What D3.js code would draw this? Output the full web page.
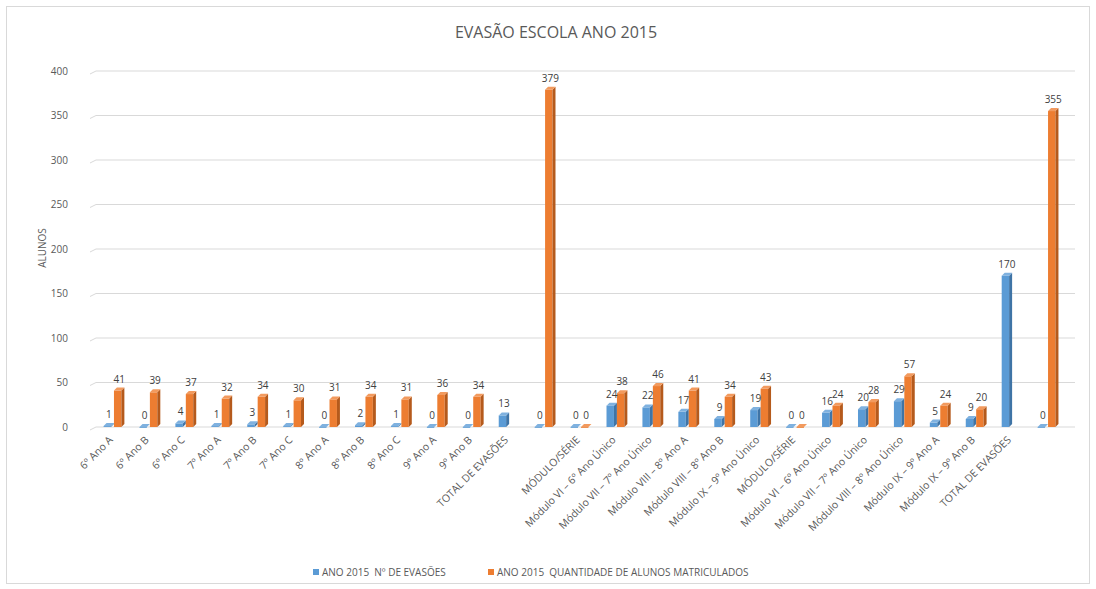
<!DOCTYPE html>
<html>
<head>
<meta charset="utf-8">
<script src="https://cdn.jsdelivr.net/npm/d3@7"></script>
<style>
  html, body { margin: 0; padding: 0; background: #fff; }
  svg { display: block; font-family: "Open Sans", "Liberation Sans", sans-serif; }
</style>
</head>
<body>
<svg id="chart" width="1096" height="589"></svg>
<script>
// Turmas / módulos (eixo X)
const categories = [
  "6º Ano A", "6º Ano B", "6º Ano C", "7º Ano A", "7º Ano B", "7º Ano C",
  "8º Ano A", "8º Ano B", "8º Ano C", "9º Ano A", "9º Ano B",
  "TOTAL DE EVASÕES", "",
  "MÓDULO/SÉRIE", "Módulo VI – 6º Ano Único", "Módulo VII – 7º Ano Único",
  "Módulo VIII – 8º Ano A", "Módulo VIII – 8º Ano B", "Módulo IX – 9º Ano Único",
  "MÓDULO/SÉRIE", "Módulo VI – 6º Ano Único", "Módulo VII – 7º Ano Único",
  "Módulo VIII – 8º Ano Único", "Módulo IX – 9º Ano A", "Módulo IX – 9º Ano B",
  "TOTAL DE EVASÕES", ""
];

// ANO 2015 Nº DE EVASÕES
const evasoes = [1, 0, 4, 1, 3, 1, 0, 2, 1, 0, 0, 13, 0,
                 0, 24, 22, 17, 9, 19, 0, 16, 20, 29, 5, 9, 170, 0];

// ANO 2015 QUANTIDADE DE ALUNOS MATRICULADOS
const matriculados = [41, 39, 37, 32, 34, 30, 31, 34, 31, 36, 34, null, 379,
                      0, 38, 46, 41, 34, 43, 0, 24, 28, 57, 24, 20, null, 355];

const yTicks = [0, 50, 100, 150, 200, 250, 300, 350, 400];

const seriesNames = ["ANO 2015  Nº DE EVASÕES", "ANO 2015  QUANTIDADE DE ALUNOS MATRICULADOS"];
const seriesData = [evasoes, matriculados];
const fronts = ["#5b9bd5", "#ed7d31"];
const sides  = ["#3f74a6", "#b55a1c"];
const tops   = ["#7fb1df", "#f29a5e"];

const svg = d3.select("#chart");

// moldura do gráfico
svg.append("rect")
  .attr("x", 6.5).attr("y", 6.5).attr("width", 1083).attr("height", 577)
  .attr("fill", "#fff").attr("stroke", "#d9d9d9");

const x = d3.scaleBand()
  .domain(d3.range(categories.length))
  .range([96, 1066])
  .paddingInner(0.42)
  .paddingOuter(0.21);

const xs = d3.scaleBand().domain([0, 1]).range([0, x.bandwidth()]);

const y = d3.scaleLinear().domain([0, 400]).range([427, 71]);

const depth = 3;

// título
svg.append("text")
  .attr("x", 556).attr("y", 38)
  .attr("text-anchor", "middle")
  .attr("font-size", 16)
  .attr("fill", "#595959")
  .text("EVASÃO ESCOLA ANO 2015");

// linhas de grade
const grid = svg.append("g");
yTicks.forEach(t => {
  const gy = y(t);
  grid.append("path")
    .attr("d", `M90,${gy + 3}L96,${gy}L1075,${gy}`)
    .attr("fill", "none")
    .attr("stroke", "#d9d9d9")
    .attr("stroke-width", 1);
});

// eixo Y
const yAxis = d3.axisLeft(y).tickValues(yTicks).tickSize(0).tickPadding(0);
const yg = svg.append("g").attr("transform", "translate(68,0)").call(yAxis);
yg.select(".domain").remove();
yg.selectAll("text").attr("font-size", 10).attr("fill", "#595959")
  .attr("font-family", "Open Sans, Liberation Sans, sans-serif");

svg.append("text")
  .attr("transform", "translate(46,248) rotate(-90)")
  .attr("text-anchor", "middle")
  .attr("font-size", 10)
  .attr("fill", "#595959")
  .text("ALUNOS");

// colunas 3D
const bars = svg.append("g");
categories.forEach((c, i) => {
  seriesData.forEach((vals, s) => {
    const v = vals[i];
    if (v === null || v === undefined) return;
    const x0 = x(i) + xs(s);
    const w = xs.bandwidth() - depth;
    const yt = y(v);
    const yb = y(0);
    const g = bars.append("g");
    // face frontal
    g.append("rect")
      .attr("x", x0).attr("y", yt)
      .attr("width", w).attr("height", Math.max(yb - yt, 0.8))
      .attr("fill", fronts[s]);
    // lateral
    g.append("path")
      .attr("d", `M${x0 + w},${yt}L${x0 + w + depth},${yt - depth}L${x0 + w + depth},${yb - depth}L${x0 + w},${yb}Z`)
      .attr("fill", sides[s]);
    // topo
    g.append("path")
      .attr("d", `M${x0},${yt}L${x0 + depth},${yt - depth}L${x0 + w + depth},${yt - depth}L${x0 + w},${yt}Z`)
      .attr("fill", tops[s]);
  });
});

// rótulos de valores
const labels = svg.append("g")
  .attr("font-size", 10)
  .attr("fill", "#404040")
  .attr("text-anchor", "middle");
categories.forEach((c, i) => {
  seriesData.forEach((vals, s) => {
    const v = vals[i];
    if (v === null || v === undefined) return;
    labels.append("text")
      .attr("x", x(i) + xs(s) + xs.bandwidth() / 2)
      .attr("y", y(v) - 8)
      .text(v);
  });
});

// rótulos do eixo X
const xl = svg.append("g")
  .attr("font-size", 10.5)
  .attr("fill", "#595959")
  .attr("text-anchor", "end");
categories.forEach((c, i) => {
  const cx = x(i) + x.bandwidth() / 2;
  xl.append("text")
    .attr("transform", `translate(${cx - 3},${438}) rotate(-45)`)
    .attr("dy", "0.35em")
    .text(c);
});

// legenda
const legend = svg.append("g").attr("font-size", 10).attr("fill", "#595959");
const legendX = [313, 488];
seriesNames.forEach((n, s) => {
  legend.append("rect")
    .attr("x", legendX[s]).attr("y", 569)
    .attr("width", 6).attr("height", 6)
    .attr("fill", fronts[s]);
  legend.append("text")
    .attr("x", legendX[s] + 9).attr("y", 576)
    .attr("xml:space", "preserve")
    .style("white-space", "pre")
    .text(n);
});
</script>
</body>
</html>
